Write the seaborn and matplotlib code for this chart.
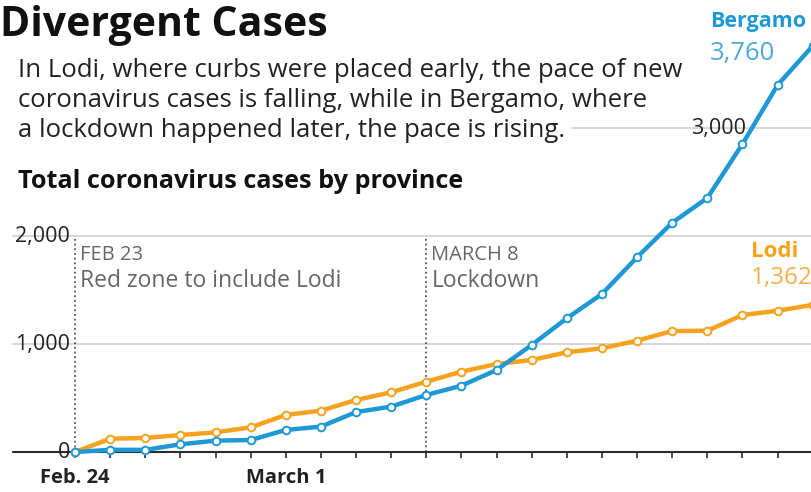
import numpy as np
import pandas as pd
import matplotlib
matplotlib.use("Agg")
import matplotlib.pyplot as plt
import seaborn as sns

# data, one point per day from Feb. 24
day = list(range(22))
bergamo = [0, 20, 20, 71, 105, 111, 204, 235, 370, 420, 528, 614, 759, 991,
           1238, 1463, 1803, 2123, 2352, 2852, 3398, 3760]
lodi = [0, 123, 130, 157, 182, 228, 343, 383, 481, 553, 651, 744, 815, 852,
        923, 960, 1031, 1120, 1123, 1268, 1308, 1362]

ytick_vals = [0, 1000, 2000, 3000]
ytick_labels = ["0", "1,000", "2,000", "3,000"]
xtick_pos = [0, 6]
xtick_labels = ["Feb. 24", "March 1"]
event_pos = [0, 10]
event_head = ["FEB 23", "MARCH 8"]
event_text = ["Red zone to include Lodi", "Lockdown"]

BLUE = "#1f98d6"
ORANGE = "#f5a21e"

df = pd.DataFrame({"day": day * 2,
                   "cases": bergamo + lodi,
                   "province": ["Bergamo"] * 22 + ["Lodi"] * 22})

sns.set_theme(style="white")
plt.rcParams["font.family"] = ["Open Sans", "DejaVu Sans"]

W, H = 812, 492
fig = plt.figure(figsize=(W / 100, H / 100), dpi=100)
ax = fig.add_axes([0, 0, 1, 1])
ax.set_axis_off()

# pixel mapping: x=75 for day 0, 35.13 px per day; y=452 for 0, 108 px per 1000
pxd = 35.13
ax.set_xlim(-75 / pxd, (W - 75) / pxd)
ax.set_ylim(-(H - 452) / 0.108, 452 / 0.108)

def fx(px):
    return px / W

def fy(py):
    return 1 - py / H

# grid lines
for v in ytick_vals[1:3]:
    ax.axhline(v, xmin=13 / W, xmax=1, color="#d6d6d6", lw=1.4, zorder=1)
ax.axhline(ytick_vals[3], xmin=572 / W, xmax=1, color="#d6d6d6", lw=1.4, zorder=1)
ax.axhline(0, xmin=13 / W, xmax=1, color="#2b2b2b", lw=1.5, zorder=2)
ax.vlines(day, -60, 0, color="#2b2b2b", lw=1.2, zorder=2)

# event lines
ax.vlines(event_pos, 0, 1980, color="#555555", lw=1.3,
          linestyles=(0, (1, 1.6)), zorder=1)

palette = {"Lodi": ORANGE, "Bergamo": BLUE}
for prov in ["Lodi", "Bergamo"]:
    sns.lineplot(data=df[df.province == prov], x="day", y="cases", ax=ax,
                 color=palette[prov], lw=3.2, marker="o", markersize=5.5,
                 markerfacecolor="white", markeredgecolor=palette[prov],
                 markeredgewidth=1.4, clip_on=True, zorder=3, legend=False)
ax.set_axis_off()

# y tick labels
for v, lab in zip(ytick_vals[:3], ytick_labels[:3]):
    ax.text(fx(70), fy(452 - v * 0.108 + 6), lab, transform=fig.transFigure,
            ha="right", va="baseline", fontsize=15.5, color="#222222")
ax.text(fx(746), fy(452 - ytick_vals[3] * 0.108 + 6), ytick_labels[3],
        transform=fig.transFigure, ha="right", va="baseline", fontsize=15.5,
        color="#222222")

# x tick labels
for p, lab in zip(xtick_pos, xtick_labels):
    ax.text(p, -(483 - 452) / 0.108, lab, ha="center", va="baseline",
            fontsize=14.5, fontweight="bold", color="#222222")

# events
for p, head, txt in zip(event_pos, event_head, event_text):
    ax.text(p + 5 / pxd, -(260 - 452) / 0.108, head, ha="left", va="baseline",
            fontsize=14.5, color="#666666")
    ax.text(p + 5 / pxd, -(287 - 452) / 0.108, txt, ha="left", va="baseline",
            fontsize=16.5, color="#666666")

# titles
fig.text(fx(0), fy(36), "Divergent Cases", fontsize=29.5, fontweight="bold",
         color="#111111", va="baseline")
sub = ["In Lodi, where curbs were placed early, the pace of new",
       "coronavirus cases is falling, while in Bergamo, where",
       "a lockdown happened later, the pace is rising."]
for i, line in enumerate(sub):
    fig.text(fx(18), fy(77 + 30 * i), line, fontsize=18.5, color="#222222",
             va="baseline")
fig.text(fx(18), fy(188), "Total coronavirus cases by province", fontsize=18.2,
         fontweight="bold", color="#111111", va="baseline")

# series labels
fig.text(fx(710), fy(27), "Bergamo", fontsize=15.5, fontweight="bold",
         color=BLUE, va="baseline")
fig.text(fx(710), fy(60), f"{bergamo[-1]:,}", fontsize=18.5, color="#4fa9dc",
         va="baseline")
fig.text(fx(751), fy(257), "Lodi", fontsize=16, fontweight="bold",
         color=ORANGE, va="baseline")
fig.text(fx(751), fy(284), f"{lodi[-1]:,}", fontsize=17.5, color="#f2b04a",
         va="baseline")

fig.savefig("out.png", dpi=100, facecolor="white")
